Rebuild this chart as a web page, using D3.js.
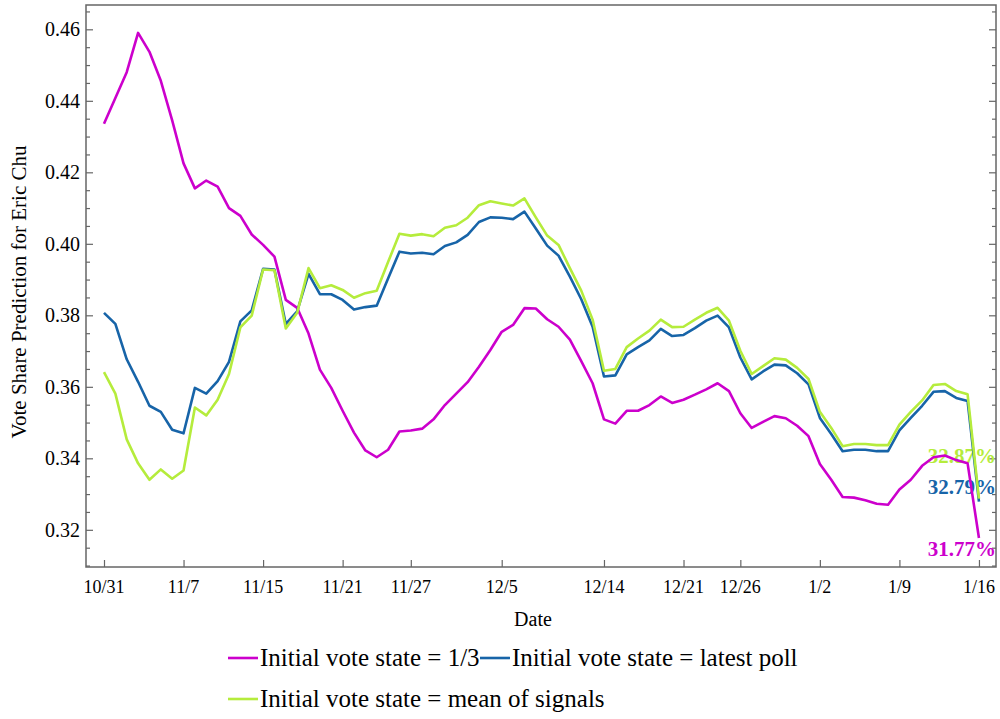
<!DOCTYPE html>
<html><head><meta charset="utf-8">
<script src="https://cdn.jsdelivr.net/npm/d3@7"></script>
<style>body{margin:0;background:#fff}svg{display:block}text{font-family:"Liberation Serif","DejaVu Serif",serif}</style>
</head><body><svg id="c" width="1000" height="719" font-family="Liberation Serif"></svg>
<script>
const tickLabels = ["10/31","11/7","11/15","11/21","11/27","12/5","12/14","12/21","12/26","1/2","1/9","1/16"];
const tickIndex = [0,7,14,21,27,35,44,51,56,63,70,77];
const seriesNames = ["Initial vote state = 1/3","Initial vote state = latest poll","Initial vote state = mean of signals"];
const seriesColors = ["#cc00cc","#1764a8","#b5ec3c"];
const endLabels = ["31.77%","32.79%","32.87%"];
const uniform = [0.4336,0.4408,0.4480,0.4590,0.4537,0.4456,0.4345,0.4225,0.4155,0.4177,0.4160,0.4100,0.4078,0.4026,0.3997,0.3964,0.3843,0.3821,0.3749,0.3648,0.3597,0.3533,0.3472,0.3422,0.3403,0.3424,0.3475,0.3478,0.3483,0.3509,0.3549,0.3581,0.3613,0.3656,0.3703,0.3754,0.3773,0.3820,0.3819,0.3789,0.3768,0.3732,0.3672,0.3610,0.3509,0.3497,0.3533,0.3533,0.3549,0.3573,0.3555,0.3564,0.3578,0.3593,0.3610,0.3588,0.3526,0.3485,0.3502,0.3518,0.3512,0.3491,0.3462,0.3384,0.3340,0.3292,0.3290,0.3283,0.3273,0.3270,0.3313,0.3340,0.3379,0.3403,0.3408,0.3395,0.3386,0.3177];
const latestPoll = [0.3807,0.3776,0.3677,0.3614,0.3547,0.3530,0.3480,0.3470,0.3597,0.3581,0.3616,0.3670,0.3783,0.3814,0.3930,0.3928,0.3776,0.3811,0.3916,0.3859,0.3859,0.3843,0.3816,0.3823,0.3827,0.3903,0.3978,0.3973,0.3975,0.3971,0.3994,0.4004,0.4025,0.4061,0.4074,0.4073,0.4069,0.4090,0.4043,0.3995,0.3967,0.3908,0.3845,0.3768,0.3629,0.3632,0.3691,0.3711,0.3730,0.3762,0.3742,0.3745,0.3764,0.3785,0.3799,0.3766,0.3682,0.3621,0.3643,0.3662,0.3660,0.3638,0.3607,0.3513,0.3468,0.3420,0.3424,0.3424,0.3420,0.3420,0.3478,0.3513,0.3547,0.3586,0.3588,0.3569,0.3560,0.3279];
const meanSignals = [0.3641,0.3581,0.3453,0.3386,0.3340,0.3369,0.3343,0.3366,0.3542,0.3520,0.3564,0.3636,0.3766,0.3799,0.3928,0.3926,0.3763,0.3807,0.3932,0.3876,0.3884,0.3871,0.3849,0.3862,0.3869,0.3949,0.4028,0.4023,0.4027,0.4021,0.4045,0.4052,0.4073,0.4108,0.4119,0.4113,0.4107,0.4127,0.4074,0.4023,0.3997,0.3932,0.3869,0.3788,0.3645,0.3650,0.3711,0.3735,0.3757,0.3788,0.3767,0.3768,0.3788,0.3807,0.3821,0.3785,0.3701,0.3636,0.3658,0.3680,0.3676,0.3653,0.3622,0.3530,0.3485,0.3434,0.3440,0.3440,0.3437,0.3437,0.3494,0.3530,0.3562,0.3605,0.3608,0.3588,0.3579,0.3287];
const yMajor = [0.32,0.34,0.36,0.38,0.40,0.42,0.44,0.46];

const series = [uniform, latestPoll, meanSignals];
const svg = d3.select("#c");
const FF = "Liberation Serif";
const L=86,R=996,T=5,B=567;
const x = d3.scaleLinear().domain([-1.584,78.5]).range([L,R]);
const y = d3.scaleLinear().domain([0.3096,0.4668]).range([B,T]);
const frame="#666";

const yMinor = d3.range(0.31,0.4666,0.005).filter(v=>!yMajor.some(m=>Math.abs(m-v)<1e-6));
const g = svg.append("g");
const la = g.append("g").attr("transform",`translate(${L},0)`).call(d3.axisRight(y).tickValues(yMajor).tickSize(7).tickFormat(""));
const lm = g.append("g").attr("transform",`translate(${L},0)`).call(d3.axisRight(y).tickValues(yMinor).tickSize(4).tickFormat(""));
const ra = g.append("g").attr("transform",`translate(${R},0)`).call(d3.axisLeft(y).tickValues(yMajor).tickSize(7).tickFormat(""));
const rm = g.append("g").attr("transform",`translate(${R},0)`).call(d3.axisLeft(y).tickValues(yMinor).tickSize(4).tickFormat(""));
const ba = g.append("g").attr("transform",`translate(0,${B})`).call(d3.axisTop(x).tickValues(tickIndex).tickSize(7).tickFormat(""));
[la,lm,ra,rm,ba].forEach(a=>{a.select(".domain").remove();a.selectAll("line").attr("stroke",frame).attr("stroke-width",1.2);});
g.selectAll(".yl").data(yMajor).join("text").attr("font-family",FF).attr("x",80).attr("y",d=>y(d)).attr("dy","0.35em")
  .attr("text-anchor","end").attr("font-size",20).text(d=>d.toFixed(2));
g.selectAll(".xl").data(tickIndex).join("text").attr("font-family",FF).attr("x",d=>x(d)).attr("y",593)
  .attr("text-anchor","middle").attr("font-size",18).text((d,i)=>tickLabels[i]);
svg.append("rect").attr("x",L).attr("y",T).attr("width",R-L).attr("height",B-T).attr("fill","none").attr("stroke",frame).attr("stroke-width",1.5);
svg.append("text").attr("font-family",FF).attr("x",533).attr("y",626).attr("text-anchor","middle").attr("font-size",20).text("Date");
svg.append("text").attr("font-family",FF).attr("transform","translate(26,292) rotate(-90)").attr("text-anchor","middle").attr("font-size",21).text("Vote Share Prediction for Eric Chu");

const labelDy = [18, -8, -36];
series.forEach((s,k)=>{
  svg.append("text").attr("font-family",FF).attr("x",996).attr("y",y(s[s.length-1])+labelDy[k]).attr("text-anchor","end")
    .attr("font-size",21).attr("font-weight","bold").attr("fill",seriesColors[k]).text(endLabels[k]);
});
const line = d3.line().x((d,i)=>x(i)).y(d=>y(d));
series.forEach((s,k)=>{
  svg.append("path").datum(s).attr("d",line).attr("fill","none").attr("stroke",seriesColors[k]).attr("stroke-width",2.6).attr("stroke-linejoin","round");
});

const leg = [{x:228,y:658},{x:480,y:658},{x:228,y:699}];
leg.forEach((p,k)=>{
  svg.append("line").attr("x1",p.x).attr("x2",p.x+30).attr("y1",p.y).attr("y2",p.y).attr("stroke",seriesColors[k]).attr("stroke-width",2.6);
  svg.append("text").attr("font-family",FF).attr("x",p.x+32).attr("y",p.y).attr("dy","0.32em").attr("font-size",25).text(seriesNames[k]);
});
</script></body></html>
